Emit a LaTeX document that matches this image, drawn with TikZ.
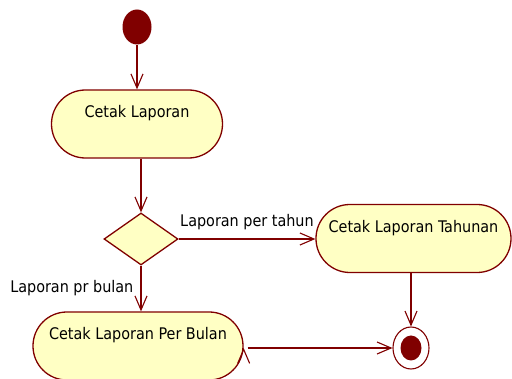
\documentclass[tikz,border=0pt]{standalone}
\usepackage{fontspec}
\setmainfont{DejaVu Sans Condensed}
\usepackage{tikz}
\usetikzlibrary{shapes.geometric,arrows.meta}
\definecolor{umlred}{RGB}{128,0,0}
\definecolor{umlfill}{RGB}{255,255,196}

\begin{document}
\begin{tikzpicture}[x=1pt,y=-1pt,line width=1.3pt,
  >={Straight Barb[length=14pt,width=12pt,line width=1.1pt]},
  activity/.style={rectangle,rounded corners=33.9pt,draw=umlred,fill=umlfill,font=\fontsize{16}{19}\selectfont,
    minimum height=68pt,text height=18pt,text depth=30pt,inner sep=10pt},
  decision/.style={diamond,draw=umlred,fill=umlfill,minimum width=74pt,minimum height=52pt,inner sep=0pt},
  initial/.style={ellipse,fill=umlred,draw=none,minimum width=29pt,minimum height=35pt,inner sep=0pt},
  finalout/.style={ellipse,draw=umlred,fill=white,line width=1.1pt,minimum width=36pt,minimum height=42pt,inner sep=0pt},
  finalin/.style={ellipse,fill=umlred,draw=none,minimum width=21pt,minimum height=25pt,inner sep=0pt},
  guard/.style={font=\fontsize{16}{19}\selectfont,text=black,inner sep=3pt}]

    \useasboundingbox (0,0) rectangle (512,379);
    \clip (0,0) rectangle (512,379);

    % The nodes
	\node [initial] at (137,27) (start) {};
	\node [activity,minimum width=171pt] at (137,124) (laporan) {Cetak Laporan};
	\node [decision] at (141,239) (choice) {};
	\node [activity,minimum width=195pt] at (413.5,238.5) (tahunan) {Cetak Laporan Tahunan};
	\node [activity,minimum width=210pt] at (138,346) (bulan) {Cetak Laporan Per Bulan};
	\node [finalout] at (411,348) (finish) {};
	\node [finalin] at (finish) (finishdot) {};

	% Flow edges
	\path[->,draw=umlred]
	(start) edge (laporan)
	(laporan.south -| choice) edge (choice.north)
	(choice.east) edge node[guard,above,yshift=6pt] {Laporan per tahun} (tahunan.west |- choice.east)
	(choice.south) edge node[guard,left,xshift=-4pt] {Laporan pr bulan} (choice.south |- bulan.north)
	(tahunan.south -| finish) edge (finish.north)
	(bulan.east |- finish) edge[shorten <=4pt] (finish.west);

\end{tikzpicture}
\end{document}
